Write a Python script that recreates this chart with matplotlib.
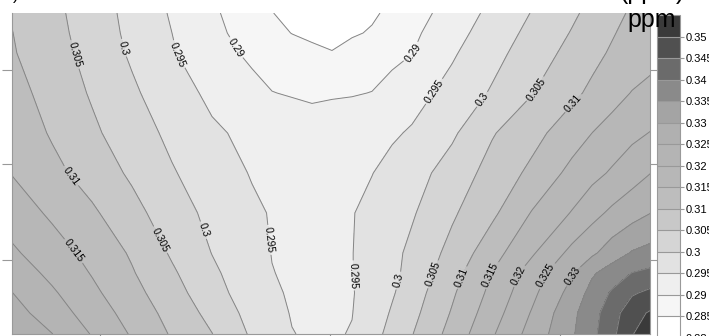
import numpy as np
import matplotlib
matplotlib.use("Agg")
import matplotlib.pyplot as plt

plt.rcParams['font.family'] = ['Liberation Sans', 'DejaVu Sans']

# contour levels (ppm) and the grey used for each band
levels = [0.28, 0.285, 0.29, 0.295, 0.30, 0.305, 0.31, 0.315, 0.32,
          0.325, 0.33, 0.335, 0.34, 0.345, 0.35, 0.355]
band_colors = ['#ffffff', '#f6f6f6', '#efefef', '#e2e2e2', '#d5d5d5',
               '#c8c8c8', '#bdbdbd', '#b7b7b7', '#b4b4b4', '#b0b0b0',
               '#a4a4a4', '#8a8a8a', '#6b6b6b', '#505050', '#3a3a3a']
line_levels = levels[1:-1]

# sample positions along x and y (y listed top to bottom)
x_pos = [0, 40, 80, 120, 160, 200, 240, 260, 280, 300, 320, 340, 360, 380,
         400, 440, 480, 520, 560, 580, 600, 620, 640]
y_pos = [321, 301, 281, 241, 201, 161, 121, 81, 61, 41, 21, 0]

# concentration at each sample, one row per y_pos entry
z_rows = [
    [0.3097, 0.3063, 0.3025, 0.2985, 0.2945, 0.2908, 0.2870, 0.2851, 0.2839, 0.2827, 0.2818, 0.2832, 0.2844, 0.2859, 0.2879, 0.2920, 0.2962, 0.3002, 0.3042, 0.3063, 0.3084, 0.3107, 0.3133],
    [0.3101, 0.3066, 0.3029, 0.2988, 0.2950, 0.2913, 0.2879, 0.2863, 0.2849, 0.2841, 0.2836, 0.2845, 0.2854, 0.2872, 0.2890, 0.2932, 0.2973, 0.3013, 0.3053, 0.3074, 0.3096, 0.3116, 0.3135],
    [0.3104, 0.3071, 0.3033, 0.2993, 0.2954, 0.2919, 0.2891, 0.2880, 0.2870, 0.2860, 0.2852, 0.2866, 0.2877, 0.2888, 0.2899, 0.2944, 0.2984, 0.3024, 0.3065, 0.3086, 0.3106, 0.3121, 0.3137],
    [0.3118, 0.3082, 0.3045, 0.3008, 0.2971, 0.2940, 0.2914, 0.2901, 0.2897, 0.2894, 0.2896, 0.2897, 0.2901, 0.2916, 0.2932, 0.2966, 0.3005, 0.3048, 0.3089, 0.3110, 0.3132, 0.3152, 0.3162],
    [0.3133, 0.3095, 0.3059, 0.3023, 0.2989, 0.2957, 0.2939, 0.2931, 0.2924, 0.2917, 0.2921, 0.2929, 0.2937, 0.2944, 0.2955, 0.2992, 0.3046, 0.3084, 0.3127, 0.3150, 0.3169, 0.3188, 0.3203],
    [0.3148, 0.3114, 0.3079, 0.3042, 0.3004, 0.2974, 0.2947, 0.2940, 0.2932, 0.2925, 0.2933, 0.2941, 0.2949, 0.2964, 0.2980, 0.3021, 0.3068, 0.3111, 0.3164, 0.3185, 0.3206, 0.3229, 0.3251],
    [0.3177, 0.3142, 0.3108, 0.3066, 0.3023, 0.2987, 0.2958, 0.2947, 0.2939, 0.2932, 0.2940, 0.2948, 0.2962, 0.2978, 0.2995, 0.3043, 0.3090, 0.3153, 0.3203, 0.3234, 0.3260, 0.3281, 0.3301],
    [0.3208, 0.3172, 0.3135, 0.3094, 0.3044, 0.2999, 0.2965, 0.2949, 0.2943, 0.2937, 0.2943, 0.2949, 0.2966, 0.2987, 0.3011, 0.3065, 0.3130, 0.3194, 0.3264, 0.3291, 0.3325, 0.3354, 0.3367],
    [0.3229, 0.3188, 0.3147, 0.3104, 0.3057, 0.3009, 0.2969, 0.2951, 0.2945, 0.2940, 0.2944, 0.2949, 0.2966, 0.2989, 0.3015, 0.3080, 0.3151, 0.3223, 0.3296, 0.3343, 0.3374, 0.3401, 0.3413],
    [0.3251, 0.3207, 0.3161, 0.3116, 0.3070, 0.3019, 0.2974, 0.2954, 0.2947, 0.2943, 0.2945, 0.2948, 0.2964, 0.2995, 0.3026, 0.3093, 0.3163, 0.3238, 0.3318, 0.3367, 0.3406, 0.3444, 0.3463],
    [0.3270, 0.3225, 0.3178, 0.3130, 0.3083, 0.3035, 0.2983, 0.2961, 0.2948, 0.2945, 0.2946, 0.2949, 0.2973, 0.3005, 0.3036, 0.3104, 0.3177, 0.3254, 0.3338, 0.3381, 0.3428, 0.3481, 0.3508],
    [0.3285, 0.3251, 0.3197, 0.3145, 0.3095, 0.3051, 0.2993, 0.2972, 0.2951, 0.2946, 0.2946, 0.2952, 0.2983, 0.3015, 0.3048, 0.3117, 0.3194, 0.3269, 0.3344, 0.3387, 0.3437, 0.3497, 0.3535],
]

# where the inline labels sit
label_pos = [(61, 279), (111, 286), (165, 279), (220, 284), (401, 281),
             (423, 242), (471, 234), (525, 244), (560, 232), (60, 159),
             (192, 104), (148, 94), (63, 84), (256, 94), (348, 59),
             (388, 53), (423, 59), (451, 56), (482, 58), (510, 57),
             (538, 57), (565, 56)]

X, Y = np.meshgrid(x_pos, y_pos)
Z = np.array(z_rows)

fig = plt.figure(figsize=(7.09, 3.36), dpi=100)
ax = fig.add_axes([12 / 709, 2 / 336, 638 / 709, 321 / 336])

cf = ax.contourf(X, Y, Z, levels=levels, colors=band_colors)
cs = ax.contour(X, Y, Z, levels=line_levels, colors='#858585', linewidths=0.7)
ax.clabel(cs, manual=label_pos, fontsize=7.5, fmt='%g', inline=True,
          inline_spacing=2, colors='black')

ax.set_xlim(0, 638)
ax.set_ylim(0, 321)
ax.set_yticks([74, 170, 264])
ax.set_xticks([88, 318, 548])
ax.set_xticklabels([])
ax.set_yticklabels([])
ax.tick_params(axis='both', direction='out', length=7, color='#999999',
               left=True, right=True, bottom=True, top=False)
for side in ['left', 'bottom', 'right']:
    ax.spines[side].set_color('#999999')
ax.spines['top'].set_visible(False)

cax = fig.add_axes([657 / 709, -2 / 336, 23 / 709, 323 / 336])
cbar = fig.colorbar(cf, cax=cax, drawedges=True)
cbar.set_ticks(levels[:-1])
cbar.set_ticklabels(['%g' % v for v in levels[:-1]])
cbar.ax.tick_params(labelsize=8, length=3, color='#999999', pad=1)
cbar.outline.set_edgecolor('#999999')
cbar.outline.set_linewidth(0.8)
cbar.dividers.set_color('#999999')
cbar.dividers.set_linewidth(0.8)

fig.text(652 / 709, 337 / 336, '(ppm)', fontsize=18, ha='center',
         va='baseline')
fig.text(652 / 709, (336 - 27) / 336, 'ppm', fontsize=18, ha='center',
         va='baseline')
fig.text(13 / 709, 1.0, ')', fontsize=12, ha='left', va='baseline')

fig.savefig('out.png', dpi=100)
